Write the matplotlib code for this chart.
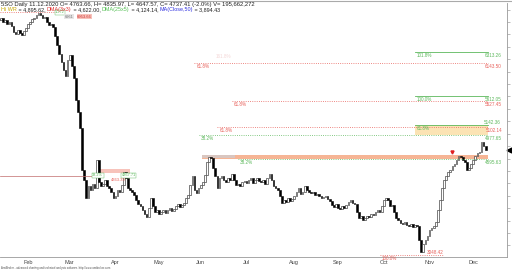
import matplotlib
matplotlib.use("Agg")
import matplotlib.pyplot as plt
from matplotlib.patches import Rectangle

plt.rcParams['font.family'] = ['Liberation Sans', 'DejaVu Sans']

# daily closes, mid Jan 2020 .. 11 Dec 2020
closes = [
    6832, 6864, 6800, 6832, 6767, 6800, 6735, 6638, 6606, 6671,
    6622, 6590, 6655, 6703, 6767, 6800, 6848, 6864, 6912, 6945,
    6912, 6864, 6880, 6800, 6751, 6767, 6719, 6574, 6429, 6284,
    6155, 6026, 5930, 6187, 6268, 6091, 5897, 5543, 5350, 5092,
    4415, 4254, 3964, 4158, 4093, 4190, 4125, 4576, 4222, 4158,
    4190, 4254, 4158, 4125, 4061, 3964, 3996, 4093, 4061, 4174,
    4383, 4286, 4125, 4093, 4061, 4013, 3932, 3868, 3835, 3771,
    3706, 3658, 3803, 3964, 3835, 3739, 3771, 3706, 3739, 3771,
    3723, 3771, 3803, 3755, 3787, 3835, 3868, 3819, 3851, 3884,
    3964, 4013, 4174, 4319, 4093, 4045, 4125, 4174, 4222, 4335,
    4544, 4625, 4609, 4448, 4319, 4125, 4286, 4319, 4254, 4222,
    4286, 4254, 4351, 4254, 4174, 4190, 4158, 4222, 4238, 4206,
    4254, 4286, 4206, 4254, 4286, 4238, 4222, 4254, 4190, 4286,
    4351, 4254, 4158, 4125, 4093, 3996, 3884, 3932, 3900, 3964,
    3916, 3948, 3996, 4061, 4125, 4029, 4061, 4158, 4093, 4061,
    4045, 4061, 4013, 4029, 3996, 3964, 3980, 3996, 3948, 3916,
    3851, 3819, 3868, 3803, 3787, 3835, 3803, 3851, 3900, 3932,
    3884, 3868, 3739, 3642, 3674, 3610, 3642, 3674, 3658, 3706,
    3690, 3739, 3771, 3739, 3835, 3932, 3964, 3932, 3835, 3851,
    3739, 3642, 3610, 3561, 3545, 3578, 3529, 3513, 3545, 3497,
    3529, 3513, 3288, 3094, 3223, 3288, 3352, 3449, 3481, 3513,
    3578, 3771, 3932, 4125, 4254, 4319, 4383, 4415, 4480, 4512,
    4576, 4641, 4625, 4576, 4544, 4415, 4448, 4512, 4576, 4641,
    4689, 4705, 4866, 4802, 4737.41,
]

months = ["Feb", "Mar", "Apr", "May", "Jun", "Jul", "Aug", "Sep", "Oct", "Nov", "Dec"]
month_bars = [14, 34, 56, 77, 97, 119, 142, 163, 185, 207, 228]

# fibonacci levels drawn on the chart
fib_values = [6313.26, 6143.50, 5612.05, 5527.45, 5142.36, 5102.14, 4977.65, 4595.63, 3048.42]
fib_pct = ["101.8%", "61.8%", "100.0%", "61.8%", "61.8%", "61.8%", "38.2%", "38.2%", "100.0%"]
fib_from = [200, 94, 200, 112, 200, 105, 96, 115, 183]
fib_to = [235, 235, 235, 235, 235, 235, 235, 235, 214]
fib_green = [True, False, True, False, True, False, True, True, False]

top_level = 6953.66
apr_level = 4319.00
apr_zone = (4367.71, 4431.00)
jun_zone = (4595.63, 4665.00)
target_zone = (4977.65, 5142.36)

GREEN = "#5cb85c"
RED = "#e8605a"

fig = plt.figure(figsize=(5.12, 2.70), dpi=100)
ax = fig.add_axes([0, 13 / 270, 507 / 512, 254 / 270])

n = len(closes)
opens = [closes[0]] + closes[:-1]
for i in range(n):
    o, c = opens[i], closes[i]
    lo, hi = min(o, c), max(o, c)
    h = max(hi - lo, 10)
    if c < o:
        ax.add_patch(Rectangle((i - 0.4, lo), 0.8, h, facecolor="black",
                               edgecolor="black", linewidth=0.4))
    else:
        ax.add_patch(Rectangle((i - 0.4, lo), 0.8, h, facecolor="white",
                               edgecolor="#333333", linewidth=0.45))

# zones
ax.add_patch(Rectangle((200, target_zone[0]), 35, target_zone[1] - target_zone[0],
                       facecolor="#fbe3b4", edgecolor="none", zorder=0))
ax.add_patch(Rectangle((97.5, jun_zone[0]), 137.5, jun_zone[1] - jun_zone[0],
                       facecolor="#f6b595", edgecolor="none", zorder=0))
ax.add_patch(Rectangle((97.5, jun_zone[0] + 10), 16, jun_zone[1] - jun_zone[0] - 10,
                       facecolor="#d9c6c0", edgecolor="none", zorder=0.5))
ax.add_patch(Rectangle((48.5, apr_zone[0]), 14.5, apr_zone[1] - apr_zone[0],
                       facecolor="#f7c3bb", edgecolor="none", zorder=0))

# fib lines and labels
for v, p, a, b, g in zip(fib_values, fib_pct, fib_from, fib_to, fib_green):
    col = GREEN if g else RED
    ls = "-" if g and p != "38.2%" else ":"
    ax.plot([a, b], [v, v], color=col, lw=0.6, ls=ls, zorder=1)
    ax.text(a + 1, v - 15, p, color=col, fontsize=3.3, va="top", ha="left")
    if b != 235:
        ax.text(b, v + 5, f"{v:.2f}", color=col, fontsize=3.3, va="bottom", ha="right")
    elif v == 5142.36:
        ax.text(241.3, v + 5, f"{v:.2f}", color=col, fontsize=3.3, va="bottom", ha="right")
    else:
        ax.text(241.8, v - 15, f"{v:.2f}", color=col, fontsize=3.3, va="top", ha="right")
ax.text(104, 6290, "161.8%", color="#f4d6d6", fontsize=3.3, va="top")

# top-left level
ax.plot([0.5, 27], [top_level, top_level], color=RED, lw=0.6, ls=":")
ax.text(27, top_level, "1.272", color=GREEN, fontsize=2.8, va="center",
        bbox=dict(boxstyle="square,pad=0.1", fc="white", ec=GREEN, lw=0.3))
ax.text(31.5, top_level - 70, "6961", color="#777777", fontsize=2.8, va="center",
        bbox=dict(boxstyle="square,pad=0.1", fc="#e6e6e6", ec="none"))
ax.text(37.5, top_level - 70, "6953.66", color="#d03030", fontsize=3.0, va="center",
        bbox=dict(boxstyle="square,pad=0.1", fc="#f7c3bb", ec="none"))

# april level
ax.plot([0.5, 44.5], [apr_level, apr_level], color="#c06a6a", lw=0.5)
ax.text(44.8, apr_zone[0] - 40, "38.2%", color=GREEN, fontsize=2.8, va="center",
        bbox=dict(boxstyle="square,pad=0.1", fc="white", ec=GREEN, lw=0.3))
ax.text(59, apr_zone[0] - 40, "4367.71", color=GREEN, fontsize=2.8, va="center",
        bbox=dict(boxstyle="square,pad=0.1", fc="white", ec=GREEN, lw=0.3))
ax.text(54, apr_zone[0] - 110, "4363.39", color=RED, fontsize=3.0, va="center")

# signal marker and last price marker
ax.plot([218], [4705], marker="v", color="#e02020", markersize=2.2, lw=0)
ax.plot([1.004], [closes[-1]], marker="<", color="black", markersize=3.5,
        transform=ax.get_yaxis_transform(), clip_on=False)

ax.set_xlim(0.5, 0.5 + 507 / 2.08)
ax.set_ylim(3014, 7106)
ax.set_xticks(month_bars)
ax.set_xticklabels(months, fontsize=4, color="#444444")
ax.tick_params(axis="x", length=0, pad=2)
ax.yaxis.tick_right()
ax.set_yticks(range(3200, 7100, 200))
ax.tick_params(axis="y", length=2, width=0.4, color="#888888", labelright=False)
for s in ["top", "left"]:
    ax.spines[s].set_visible(False)
for s in ["right", "bottom"]:
    ax.spines[s].set_color("#999999")
    ax.spines[s].set_linewidth(0.6)

# header
fig.add_artist(plt.Line2D([0, 1], [0.998, 0.998], color="#aaaaaa", lw=0.8))
fig.text(0.002, 0.984, "5SO Daily 11.12.2020 O= 4763.66, H= 4835.97, L= 4647.57, "
         "C= 4737.41 (-2.0%) V= 195,662,272", fontsize=4.2, va="center", color="#222222")
parts = [("Hi WR", "#c8a800"), (" = 4,895.62, ", "#222222"), ("DMA(3x3)", "#e03030"),
         (" = 4,622.00, ", "#222222"), ("DMA(25x5)", "#55c055"),
         (" = 4,124.14, ", "#222222"), ("MA(Close,50)", "#3030e0"), (" = 3,894.43", "#222222")]
xpos = 0.002
renderer = fig.canvas.get_renderer()
for txt, col in parts:
    t = fig.text(xpos, 0.965, txt, fontsize=3.9, va="center", color=col)
    bb = t.get_window_extent(renderer=renderer)
    xpos += bb.width / fig.bbox.width

fig.text(0.002, 0.002, "AmiBroker - advanced charting and technical analysis software. "
         "http://www.amibroker.com", fontsize=2.0, color="#555555")

fig.savefig("out.png", dpi=100)
